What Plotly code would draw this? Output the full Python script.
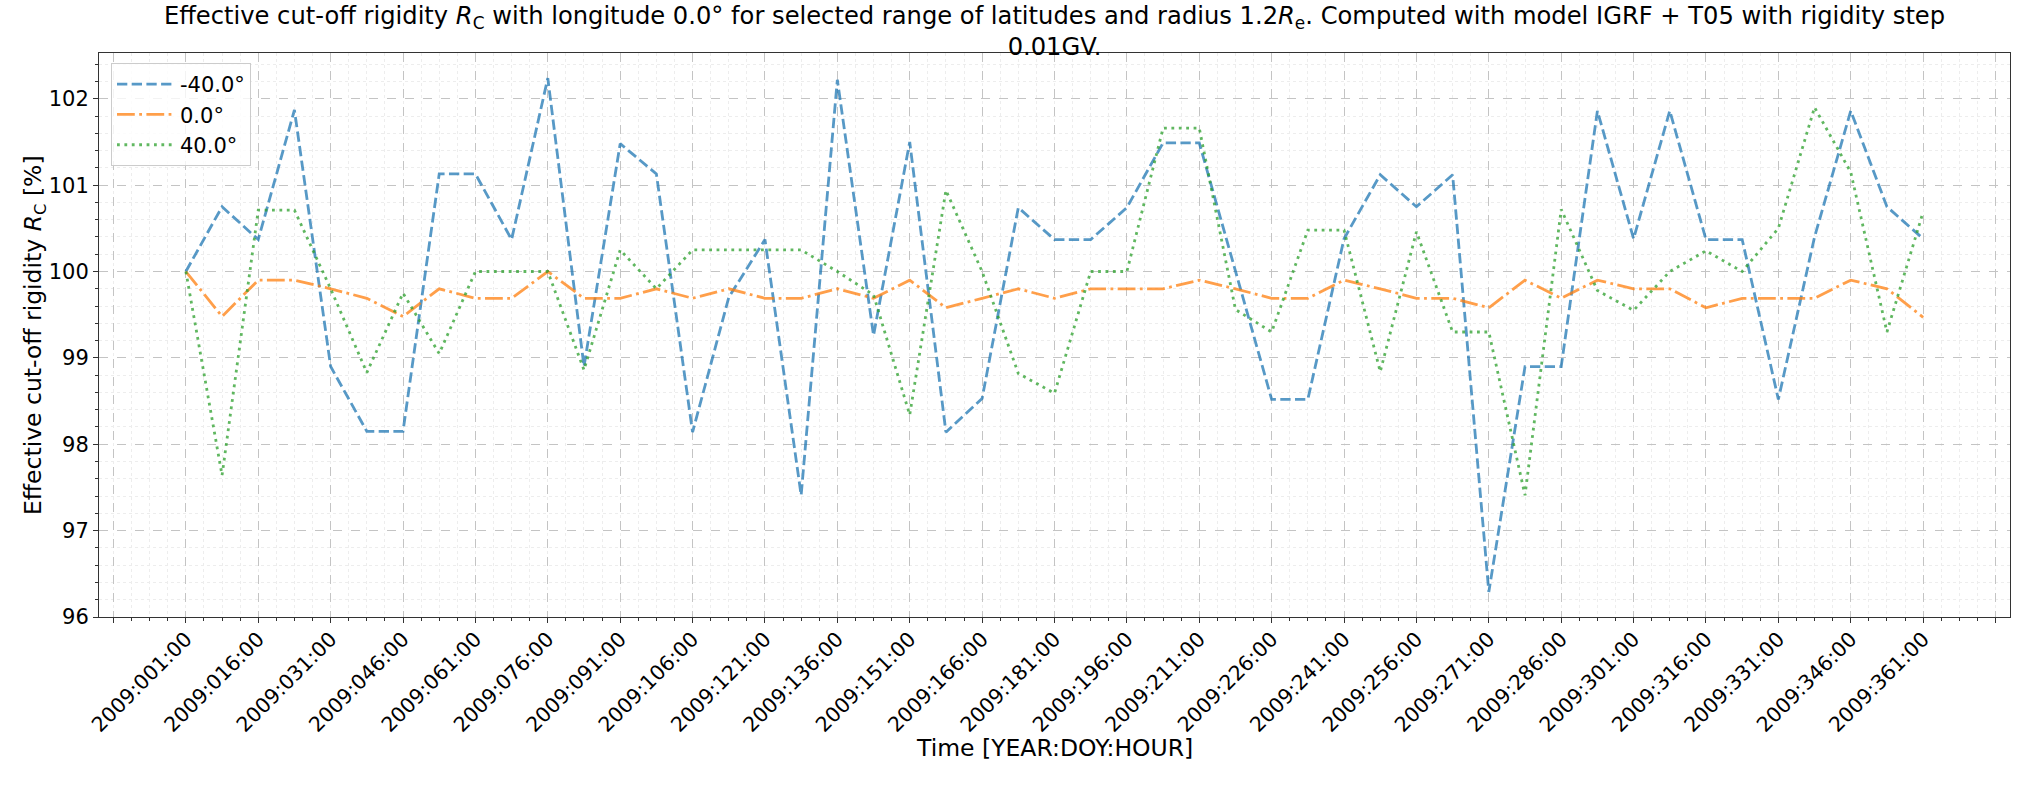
import plotly.graph_objects as go

# Day-of-year positions of the samples (2009, every 180 hours)
doy = [1, 8.5, 16, 23.5, 31, 38.5, 46, 53.5, 61, 68.5, 76, 83.5, 91, 98.5, 106, 113.5,
       121, 128.5, 136, 143.5, 151, 158.5, 166, 173.5, 181, 188.5, 196, 203.5, 211, 218.5,
       226, 233.5, 241, 248.5, 256, 263.5, 271, 278.5, 286, 293.5, 301, 308.5, 316, 323.5,
       331, 338.5, 346, 353.5, 361]

lat_m40 = [100.0, 100.75, 100.37, 101.87, 98.9, 98.15, 98.15, 101.13, 101.13, 100.37,
           102.24, 98.9, 101.48, 101.13, 98.14, 99.7, 100.37, 97.41, 102.22, 99.26,
           101.5, 98.14, 98.53, 100.74, 100.37, 100.37, 100.74, 101.49, 101.49, 100.0,
           98.52, 98.52, 100.38, 101.12, 100.75, 101.12, 96.29, 98.9, 98.9, 101.86,
           100.38, 101.86, 100.37, 100.37, 98.52, 100.4, 101.86, 100.75, 100.38]

lat_0 = [100.0, 99.48, 99.9, 99.9, 99.8, 99.69, 99.48, 99.8, 99.69, 99.69,
         100.0, 99.69, 99.69, 99.8, 99.69, 99.8, 99.69, 99.69, 99.8, 99.69,
         99.9, 99.58, 99.69, 99.8, 99.69, 99.8, 99.8, 99.8, 99.9, 99.8,
         99.69, 99.69, 99.9, 99.8, 99.69, 99.69, 99.58, 99.9, 99.69, 99.9,
         99.8, 99.8, 99.58, 99.69, 99.69, 99.69, 99.9, 99.8, 99.47]

lat_40 = [100.0, 97.64, 100.71, 100.71, 99.8, 98.83, 99.75, 99.05, 100.0, 100.0,
          100.0, 98.86, 100.25, 99.8, 100.25, 100.25, 100.25, 100.25, 100.0, 99.73,
          98.34, 100.94, 100.0, 98.82, 98.59, 100.0, 100.0, 101.66, 101.66, 99.56,
          99.3, 100.48, 100.48, 98.84, 100.46, 99.3, 99.3, 97.41, 100.72, 99.78,
          99.55, 100.0, 100.24, 100.0, 100.5, 101.9, 101.15, 99.3, 100.69]

tick_days = [-14, 1, 16, 31, 46, 61, 76, 91, 106, 121, 136, 151, 166, 181, 196, 211,
             226, 241, 256, 271, 286, 301, 316, 331, 346, 361, 376]
tick_labels = ["", "2009:001:00", "2009:016:00", "2009:031:00", "2009:046:00", "2009:061:00",
               "2009:076:00", "2009:091:00", "2009:106:00", "2009:121:00", "2009:136:00",
               "2009:151:00", "2009:166:00", "2009:181:00", "2009:196:00", "2009:211:00",
               "2009:226:00", "2009:241:00", "2009:256:00", "2009:271:00", "2009:286:00",
               "2009:301:00", "2009:316:00", "2009:331:00", "2009:346:00", "2009:361:00", ""]

series = [
    ("-40.0°", lat_m40, "#1f77b4", "10.3px,4.4px"),
    ("0.0°", lat_0, "#ff7f0e", "17.8px,4.4px,2.8px,4.4px"),
    ("40.0°", lat_40, "#2ca02c", "2.8px,4.6px"),
]

FONT = "DejaVu Sans"
W, H = 2035, 785
ML, MR, MT, MB = 99, 25, 53, 168
PW, PH = W - ML - MR, H - MT - MB

fig = go.Figure()
for name, vals, col, dash in series:
    fig.add_trace(go.Scatter(x=doy, y=vals, mode="lines", name=name, opacity=0.75,
                             line=dict(color=col, width=2.8, dash=dash)))

fig.update_layout(
    width=W, height=H,
    margin=dict(l=ML, r=MR, t=MT, b=MB, autoexpand=False),
    paper_bgcolor="white", plot_bgcolor="white",
    font=dict(family=FONT, size=21, color="black"),
    title=dict(
        text="Effective cut-off rigidity <i>R</i><sub>C</sub> with longitude 0.0° for selected range of latitudes and radius 1.2<i>R</i><sub>e</sub>. Computed with model IGRF + T05 with rigidity step<br>0.01GV.",
        x=0.5, xref="paper", xanchor="center",
        y=0.970, yref="container", yanchor="top",
        font=dict(family=FONT, size=24.2, color="black"),
    ),
    legend=dict(x=(111 - ML) / PW, y=1 - (63 - MT) / PH, xanchor="left", yanchor="top",
                bgcolor="rgba(255,255,255,0.8)", bordercolor="#cccccc", borderwidth=1,
                itemwidth=58, font=dict(family=FONT, size=21)),
    showlegend=True,
    annotations=[
        dict(text="Time [YEAR:DOY:HOUR]", xref="paper", yref="paper", x=0.5,
             y=-(748 - (H - MB)) / PH, xanchor="center", yanchor="middle",
             showarrow=False, font=dict(family=FONT, size=23.5, color="black")),
        dict(text="Effective cut-off rigidity <i>R</i><sub>C</sub> [%]", xref="paper",
             yref="paper", x=-(ML - 34) / PW, y=0.5, xanchor="center", yanchor="middle",
             textangle=-90, showarrow=False,
             font=dict(family=FONT, size=23.5, color="black")),
    ],
)

fig.update_xaxes(
    range=[-17, 379], tickmode="array", tickvals=tick_days, ticktext=tick_labels,
    tickangle=-45, ticks="outside", ticklen=5, tickcolor="#333", automargin=False,
    ticklabelstandoff=-4,
    showline=True, mirror=True, linecolor="#333", linewidth=1,
    showgrid=True, gridcolor="#c4c4c4", griddash="dash", gridwidth=1, zeroline=False,
    minor=dict(tickmode="linear", tick0=1, dtick=3.75, ticks="outside", ticklen=3,
               tickcolor="#333", showgrid=True, gridcolor="#ededed", griddash="dot"),
    tickfont=dict(family=FONT, size=20.5),
)
fig.update_yaxes(
    range=[96.0, 102.53], tickmode="linear", tick0=96, dtick=1,
    ticks="outside", ticklen=5, tickcolor="#333", automargin=False,
    showline=True, mirror=True, linecolor="#333", linewidth=1,
    showgrid=True, gridcolor="#c4c4c4", griddash="dash", gridwidth=1, zeroline=False,
    minor=dict(tickmode="linear", tick0=96, dtick=0.2, ticks="outside", ticklen=3,
               tickcolor="#333", showgrid=True, gridcolor="#ededed", griddash="dot"),
    tickfont=dict(family=FONT, size=21),
)

fig.write_html(
    "out.html",
    config={"displayModeBar": False},
    post_script="document.body.style.margin='0';document.body.style.overflow='hidden';",
)
